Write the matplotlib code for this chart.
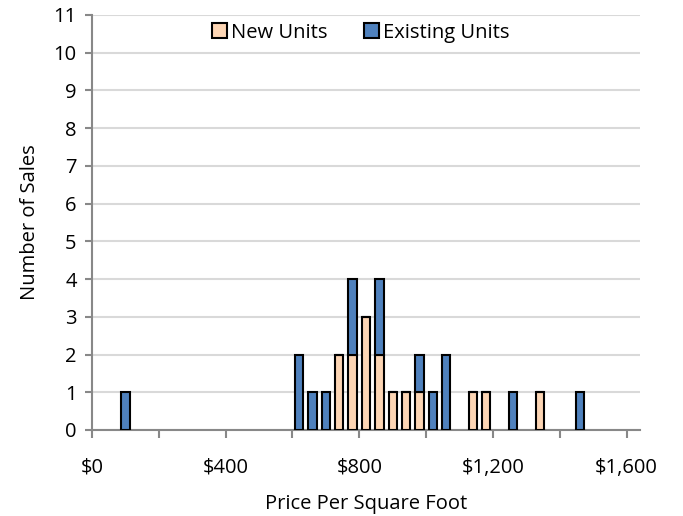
import numpy as np
import matplotlib.pyplot as plt
from matplotlib.ticker import FuncFormatter, MultipleLocator

# bin centres ($ per sq ft, $40 bins) and counts per bin
bins     = [100, 620, 660, 700, 740, 780, 820, 860, 900, 940, 980, 1020, 1060, 1140, 1180, 1260, 1340, 1460]
new      = [0,   0,   0,   0,   2,   2,   3,   2,   1,   1,   1,   0,    0,    1,    1,    0,    1,    0]
existing = [1,   2,   1,   1,   0,   2,   0,   2,   0,   0,   1,   1,    2,    0,    0,    1,    0,    1]

plt.rcParams['font.family'] = ['Open Sans', 'DejaVu Sans']
fs = 14.5

fig = plt.figure(figsize=(6.83, 5.16), dpi=100)
ax = fig.add_axes([0.1347, 0.1667, 0.8023, 0.8043])

width = 25
ax.bar(bins, new, width=width, color='#FCD5B4', edgecolor='black', linewidth=1.5,
       label='New Units', zorder=3)
ax.bar(bins, existing, width=width, bottom=new, color='#4F81BD', edgecolor='black',
       linewidth=1.5, label='Existing Units', zorder=3)

ax.set_xlim(0, 1640)
ax.set_ylim(0, 11)
ax.xaxis.set_major_locator(MultipleLocator(400))
ax.xaxis.set_minor_locator(MultipleLocator(200))
ax.xaxis.set_major_formatter(FuncFormatter(lambda v, p: f'${v:,.0f}'))
ax.yaxis.set_major_locator(MultipleLocator(1))

ax.grid(axis='y', color='#d9d9d9', linewidth=1.5, zorder=0)
for s in ['top', 'right']:
    ax.spines[s].set_visible(False)
for s in ['left', 'bottom']:
    ax.spines[s].set_color('#888888')
    ax.spines[s].set_linewidth(1.5)
ax.tick_params(axis='both', which='both', colors='#888888', labelcolor='black',
               labelsize=fs, width=1.5)
ax.tick_params(axis='x', which='both', length=6, pad=14)
ax.tick_params(axis='y', length=5, pad=6)

ax.set_xlabel('Price Per Square Foot', fontsize=fs, labelpad=12)
ax.set_ylabel('Number of Sales', fontsize=fs, labelpad=10)

ax.legend(loc='upper center', bbox_to_anchor=(0.49, 1.025), ncol=2, frameon=False,
          fontsize=fs, handlelength=0.75, handleheight=0.75, handletextpad=0.2,
          columnspacing=1.8)

fig.savefig('out.png', dpi=100)
